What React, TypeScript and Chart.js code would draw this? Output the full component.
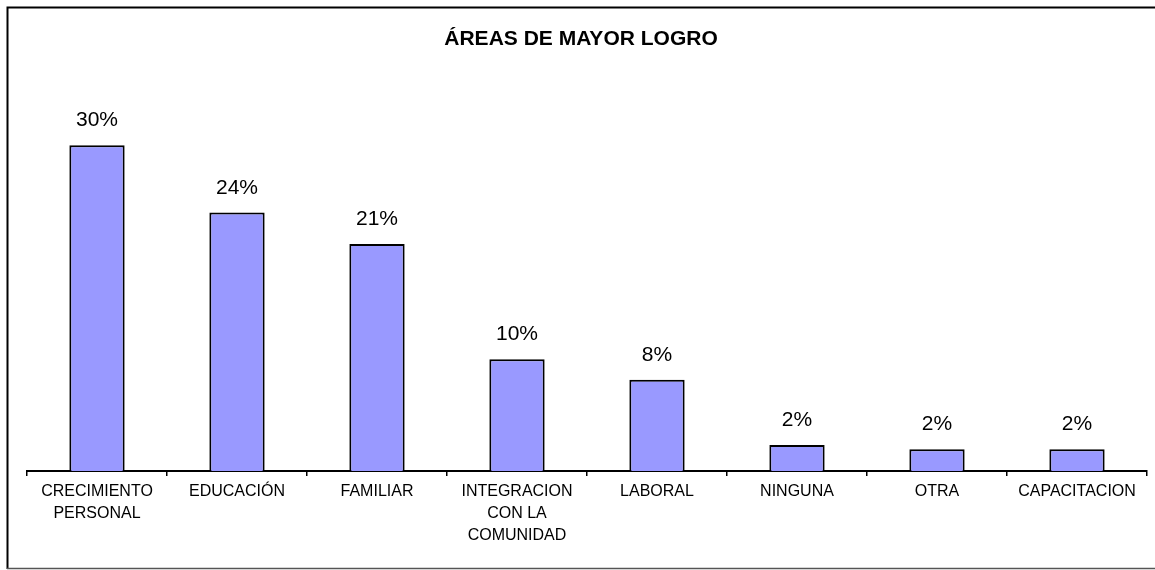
import React, { useEffect, useRef } from "react";
import { Chart, registerables } from "chart.js";

Chart.register(...registerables);

const TITLE = "ÁREAS DE MAYOR LOGRO";
const categories: (string | string[])[] = [
  ["CRECIMIENTO", "PERSONAL"],
  "EDUCACIÓN",
  "FAMILIAR",
  ["INTEGRACION", "CON LA", "COMUNIDAD"],
  "LABORAL",
  "NINGUNA",
  "OTRA",
  "CAPACITACION",
];
const values: number[] = [30.0, 23.8, 20.9, 10.3, 8.4, 2.4, 2.0, 2.0];
const Y_MAX = 35;

const FONT = "'Liberation Sans', Arial, sans-serif";

const decor = {
  id: "decor",
  afterDraw(chart: any) {
    const ctx = chart.ctx;
    ctx.save();
    // outer frame
    ctx.strokeStyle = "#000";
    ctx.lineWidth = 2;
    ctx.beginPath();
    ctx.moveTo(1160, 7.5);
    ctx.lineTo(7.5, 7.5);
    ctx.lineTo(7.5, 569);
    ctx.stroke();
    ctx.strokeStyle = "#555";
    ctx.lineWidth = 1.5;
    ctx.beginPath();
    ctx.moveTo(7, 568.5);
    ctx.lineTo(1160, 568.5);
    ctx.stroke();
    // title
    ctx.fillStyle = "#000";
    ctx.font = `bold 21px ${FONT}`;
    ctx.textAlign = "center";
    ctx.textBaseline = "alphabetic";
    ctx.fillText(TITLE, 581, 45);
    // value labels
    ctx.font = `21px ${FONT}`;
    const meta = chart.getDatasetMeta(0);
    meta.data.forEach((bar: any, i: number) => {
      ctx.fillText(Math.round(values[i]) + "%", bar.x, bar.y - 19);
    });
    ctx.restore();
  },
};

export default function App() {
  const ref = useRef<HTMLCanvasElement>(null);
  useEffect(() => {
    if (!ref.current) return;
    const chart = new Chart(ref.current, {
      type: "bar",
      data: {
        labels: categories,
        datasets: [
          {
            data: values,
            backgroundColor: "#9999FF",
            borderColor: "#000",
            borderWidth: 2,
            borderSkipped: "bottom",
            barPercentage: 0.395,
            categoryPercentage: 1,
          },
        ],
      },
      options: {
        responsive: false,
        animation: false,
        layout: { padding: { top: 91, left: 27, right: 8, bottom: 0 } },
        plugins: {
          legend: { display: false },
          title: { display: false },
          tooltip: { enabled: false },
        },
        scales: {
          y: { display: false, min: 0, max: Y_MAX },
          x: {
            afterFit(scale: any) {
              scale.height = 99;
            },
            border: { display: true, color: "#000", width: 2 },
            grid: {
              offset: true,
              drawOnChartArea: false,
              drawTicks: true,
              tickLength: 5,
              color: "#000",
              lineWidth: 1.5,
            },
            ticks: {
              color: "#000",
              maxRotation: 0,
              autoSkip: false,
              padding: 5,
              font: { family: FONT, size: 16, lineHeight: 1.36 },
            },
          },
        },
      },
      plugins: [decor],
    });
    return () => chart.destroy();
  }, []);
  return (
    <div style={{ position: "fixed", left: 0, top: 0, width: 1155, height: 570, background: "#fff" }}>
      <canvas ref={ref} width={1155} height={570} style={{ display: "block" }} />
    </div>
  );
}
